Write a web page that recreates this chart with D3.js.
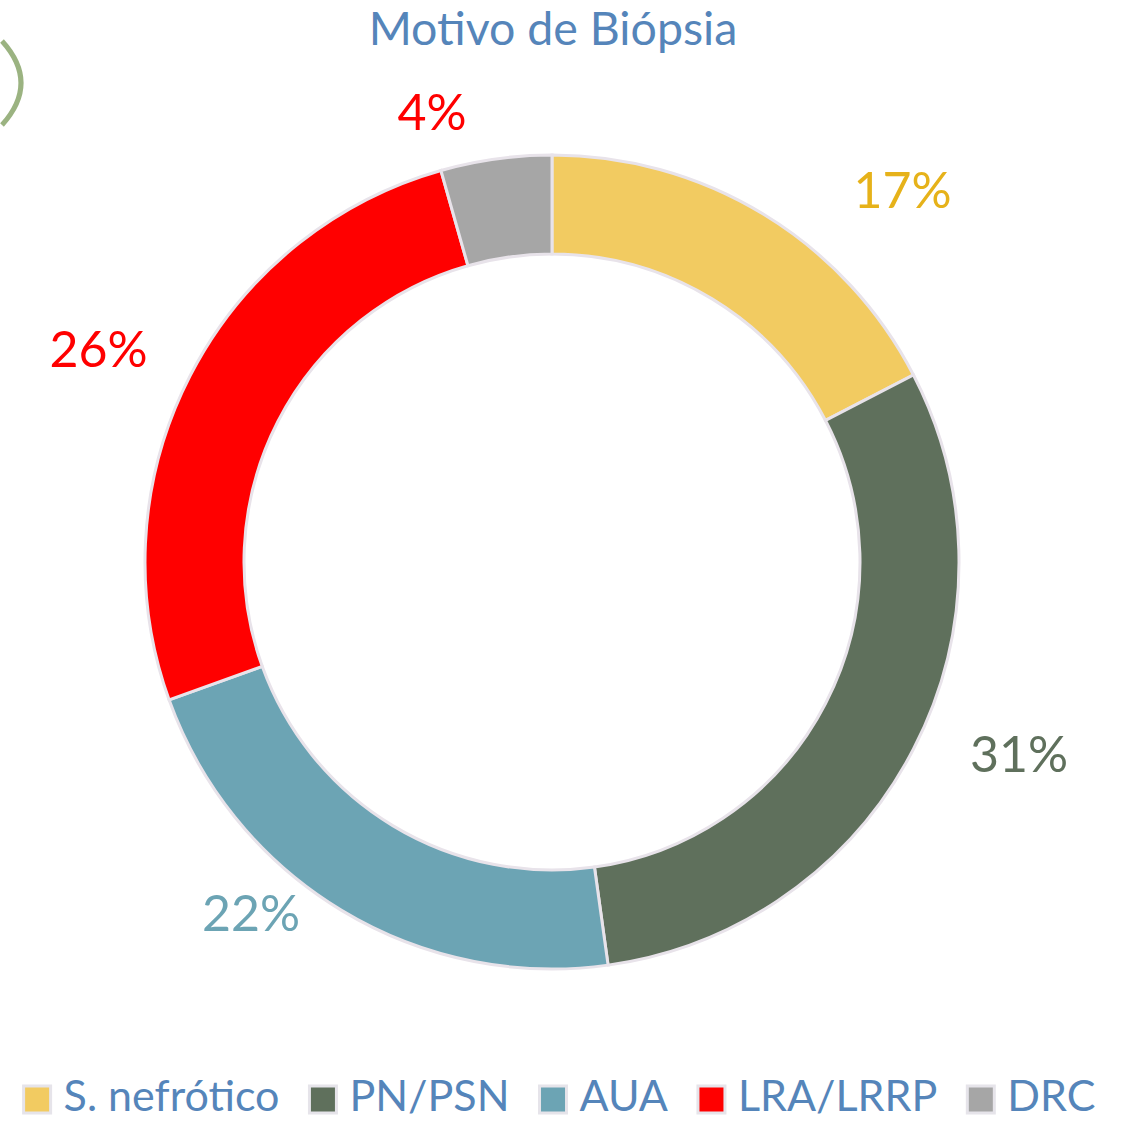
<!DOCTYPE html>
<html>
<head>
<meta charset="utf-8">
<script src="https://cdn.jsdelivr.net/npm/d3@7"></script>
<style>
  body { margin: 0; background: #fff; }
  text { font-family: Lato, "Open Sans", sans-serif; }
</style>
</head>
<body>
<svg id="chart"></svg>
<script>
// data
const categories = ['S. nefrótico', 'PN/PSN', 'AUA', 'LRA/LRRP', 'DRC'];
const values = [17.4, 30.4, 21.7, 26.1, 4.4];
const labels = ['17%', '31%', '22%', '26%', '4%'];
const colors = ['#F2CB61', '#5F705C', '#6CA4B4', '#FF0000', '#A6A6A6'];
const labelColors = ['#E6B21A', '#5F705C', '#6CA4B4', '#FF0000', '#FF0000'];

// label placement nudges (degrees, radius) to mimic the original layout
const labelAngle = [12, -5, 9.5, -2, -7];
const labelRadius = [511, 505, 462, 501, 466];

const width = 1124, height = 1121;
const cx = 552, cy = 562;
const outerR = 407, innerR = 308;

const svg = d3.select('#chart')
    .attr('width', width)
    .attr('height', height);

// stray bracket at top-left
svg.append('path')
    .attr('d', 'M2,41 Q40,83 2,125')
    .attr('fill', 'none')
    .attr('stroke', '#9BB381')
    .attr('stroke-width', 5);

svg.append('text')
    .attr('x', 553)
    .attr('y', 45)
    .attr('text-anchor', 'middle')
    .attr('font-size', 46.5)
    .attr('fill', '#5585BA')
    .text('Motivo de Biópsia');

const pie = d3.pie().sort(null).value(d => d);
const arcs = pie(values);

const arc = d3.arc().innerRadius(innerR).outerRadius(outerR);

const g = svg.append('g')
    .attr('transform', `translate(${cx}, ${cy})`);

g.selectAll('path.slice')
    .data(arcs)
    .join('path')
    .attr('class', 'slice')
    .attr('d', arc)
    .attr('fill', (d, i) => colors[i])
    .attr('stroke', '#E8E3EA')
    .attr('stroke-width', 3);

g.selectAll('text.lbl')
    .data(arcs)
    .join('text')
    .attr('class', 'lbl')
    .attr('transform', (d, i) => {
        const a = (d.startAngle + d.endAngle) / 2 + labelAngle[i] * Math.PI / 180;
        const r = labelRadius[i];
        return `translate(${r * Math.sin(a)}, ${-r * Math.cos(a)})`;
    })
    .attr('text-anchor', 'middle')
    .attr('dy', '0.36em')
    .attr('font-size', 50)
    .attr('fill', (d, i) => labelColors[i])
    .text((d, i) => labels[i]);

// legend
const legend = svg.append('g');
const items = legend.selectAll('g.item')
    .data(categories)
    .join('g')
    .attr('class', 'item');

items.append('rect')
    .attr('width', 27)
    .attr('height', 27)
    .attr('y', 1086)
    .attr('fill', (d, i) => colors[i])
    .attr('stroke', '#E6E4EA')
    .attr('stroke-width', 3);

items.append('text')
    .attr('x', 40)
    .attr('y', 1111)
    .attr('font-size', 43)
    .attr('fill', '#5585BA')
    .text(d => d);

let x = 0;
const gap = 30;
items.each(function () {
    const w = 40 + d3.select(this).select('text').node().getComputedTextLength();
    d3.select(this).attr('transform', `translate(${x}, 0)`);
    x += w + gap;
});
const total = x - gap;
legend.attr('transform', `translate(${(22 + 1097) / 2 - total / 2}, 0)`);
</script>
</body>
</html>
